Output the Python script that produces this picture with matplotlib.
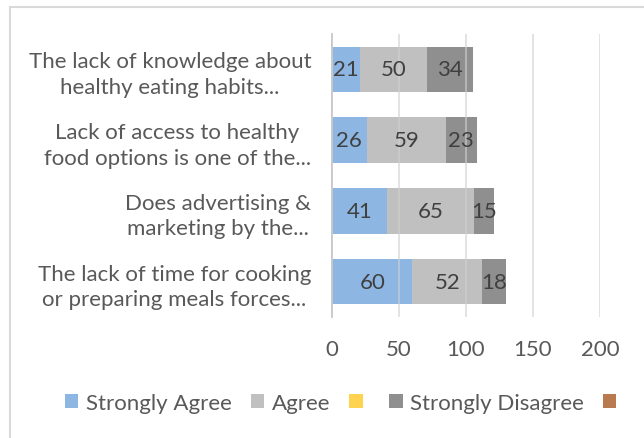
import matplotlib.pyplot as plt
import numpy as np
from matplotlib.patches import Patch, Rectangle

plt.rcParams['font.family'] = ['Lato', 'DejaVu Sans']

categories = [
    'The lack of time for cooking\nor preparing meals forces...',
    'Does advertising &\nmarketing by the...',
    'Lack of access to healthy\nfood options is one of the...',
    'The lack of knowledge about\nhealthy eating habits...',
]
series_names = ['Strongly Agree', 'Agree', '', 'Strongly Disagree', '']
strongly_agree = [60, 41, 26, 21]
agree = [52, 65, 59, 50]
neutral = [0, 0, 0, 0]
strongly_disagree = [18, 15, 23, 34]
other = [0, 0, 0, 0]
colors = ['#8db6e3', '#c0c0c0', '#ffd34f', '#8f8f8f', '#b97a50']

values = [strongly_agree, agree, neutral, strongly_disagree, other]
text_color = '#595959'

fig = plt.figure(figsize=(6.44, 4.39), dpi=100)
ax = fig.add_axes([332 / 644, 1 - 318 / 439, 268 / 644, 283 / 439])

y = np.arange(len(categories))
left = np.zeros(len(categories))
for vals, name, col in zip(values, series_names, colors):
    vals = np.array(vals, dtype=float)
    bars = ax.barh(y, vals, left=left, height=0.64, color=col, zorder=2)
    for b, v in zip(bars, vals):
        if v > 0:
            ax.text(b.get_x() + b.get_width() / 2, b.get_y() + b.get_height() / 2,
                    f'{int(v)}', ha='center', va='center', fontsize=16,
                    color='#404040', zorder=4)
    left += vals

ax.set_xlim(0, 200)
ax.set_ylim(-0.5, len(categories) - 0.5)
ax.set_xticks([0, 50, 100, 150, 200])
ax.set_yticks(y)
ax.set_yticklabels(categories, fontsize=16, color=text_color,
                   multialignment='center', linespacing=1.35)
ax.tick_params(axis='x', labelsize=16, colors=text_color, length=0, pad=16)
ax.tick_params(axis='y', length=0, pad=15)
ax.xaxis.grid(True, color='#d0d0d0', lw=1.2, alpha=0.7, zorder=3)
ax.set_axisbelow(False)
for s in ['top', 'right', 'bottom']:
    ax.spines[s].set_visible(False)
ax.spines['left'].set_color('#bfbfbf')
ax.spines['left'].set_linewidth(1.2)

# outer chart frame
fig.patches.append(Rectangle((10 / 644, -0.1), 1.2, 1.1 - 8 / 439,
                             transform=fig.transFigure, fill=False,
                             edgecolor='#d9d9d9', lw=1.5))

handles = [Patch(facecolor=c, edgecolor='none') for c in colors]
fig.legend(handles, series_names, loc='center', bbox_to_anchor=(0.535, 1 - 404 / 439),
           ncol=5, frameon=False, fontsize=16, labelcolor=text_color,
           handlelength=0.6, handleheight=0.6, handletextpad=0.35, columnspacing=0.85)

fig.savefig('out.png', dpi=100)
